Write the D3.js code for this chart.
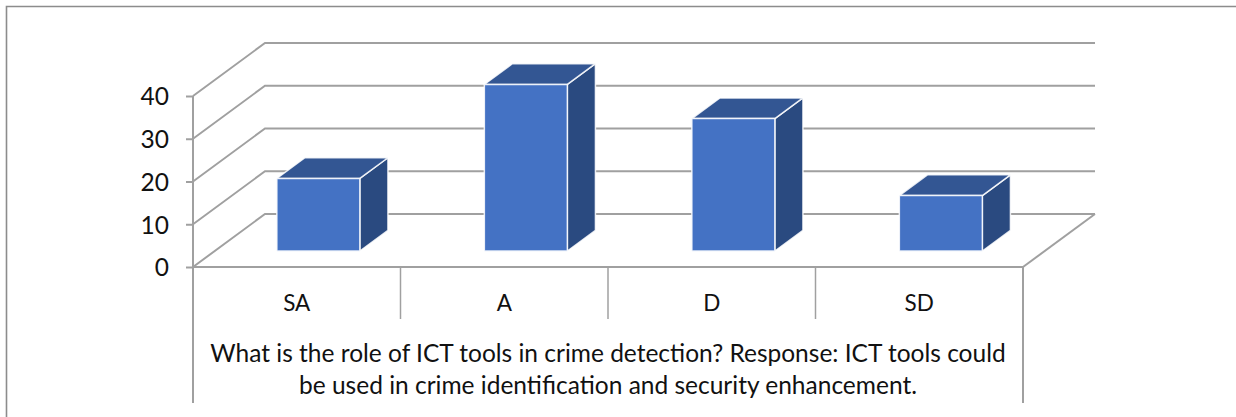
<!DOCTYPE html>
<html>
<head>
<meta charset="utf-8">
<script src="https://cdn.jsdelivr.net/npm/d3@7"></script>
<style>
  html, body { margin: 0; padding: 0; background: #fff; }
  svg { display: block; }
  text { font-family: Lato, "Open Sans", sans-serif; fill: #111; }
</style>
</head>
<body>
<div class="svg-container"></div>
<script>
// data
const categories = ["SA", "A", "D", "SD"];
const values = [17, 39, 31, 13];
const yTicks = [0, 10, 20, 30, 40];
const titleLines = [
  "What is the role of ICT tools in crime detection? Response: ICT tools could",
  "be used in crime identification and security enhancement."
];

const w = 1236;
const h = 417;
const gray = "#a0a0a0";

const svg = d3.select(".svg-container")
  .append("svg")
  .attr("width", w)
  .attr("height", h);

// outer frame, cut off by the picture on the right and bottom
svg.append("path")
  .attr("d", "M6.5," + h + "V6.5H" + w)
  .attr("fill", "none")
  .attr("stroke", "#8c8c8c")
  .attr("stroke-width", 1.6);

// XSCALE
const xScale = d3.scaleBand()
  .domain(categories)
  .range([193, 1023]);

// YSCALE
const yScale = d3.scaleLinear()
  .domain([0, 40])
  .range([267, 96]);

// depth goes from the front of the floor (0) to the back wall (1)
const depthX = d3.scaleLinear().domain([0, 1]).range([0, 72]);
const depthY = d3.scaleLinear().domain([0, 1]).range([0, -53]);

// GRID: side wall and back wall
const grid = svg.append("g")
  .attr("fill", "none")
  .attr("stroke", gray)
  .attr("stroke-width", 2);

yTicks.forEach(function (t) {
  grid.append("path")
    .attr("d", d3.line()([
      [xScale.range()[0], yScale(t)],
      [xScale.range()[0] + depthX(1), yScale(t) + depthY(1)],
      [xScale.range()[1] + depthX(1), yScale(t) + depthY(1)]
    ]));
});

// floor edge on the right
grid.append("path")
  .attr("d", d3.line()([
    [xScale.range()[1], yScale(0)],
    [xScale.range()[1] + depthX(1), yScale(0) + depthY(1)]
  ]));

// AXIS
const yAxis = d3.axisLeft(yScale)
  .tickValues(yTicks)
  .tickSize(7)
  .tickPadding(17);

const yG = svg.append("g")
  .attr("transform", "translate(193,0)")
  .call(yAxis);
yG.select(".domain").remove();
yG.selectAll("line").attr("stroke", gray).attr("stroke-width", 2);
yG.selectAll("text")
  .attr("font-size", 24.5)
  .attr("dy", "0.36em")
  .style("font-family", "Lato, sans-serif")
  .style("fill", "#111");

// table lines under the floor
const axisLines = svg.append("g")
  .attr("stroke", gray)
  .attr("stroke-width", 2);

axisLines.append("line")
  .attr("x1", xScale.range()[0]).attr("x2", xScale.range()[1])
  .attr("y1", yScale(0)).attr("y2", yScale(0));
axisLines.append("line")
  .attr("x1", xScale.range()[0]).attr("x2", xScale.range()[0])
  .attr("y1", yScale(40)).attr("y2", 403);
axisLines.append("line")
  .attr("x1", xScale.range()[1]).attr("x2", xScale.range()[1])
  .attr("y1", yScale(0)).attr("y2", 403);
axisLines.selectAll(".sep")
  .data(categories.slice(1))
  .enter()
  .append("line")
  .attr("class", "sep")
  .attr("stroke-width", 1.5)
  .attr("x1", d => xScale(d)).attr("x2", d => xScale(d))
  .attr("y1", yScale(0)).attr("y2", 319);

// BARS
const barWidth = 83;
const barFront = 0.3;
const barDepth = 0.39;
const unit = yScale(0) - yScale(1);

const bars = svg.selectAll(".bar")
  .data(categories.map((c, i) => ({ cat: c, val: values[i] })))
  .enter()
  .append("g")
  .attr("class", "bar")
  .attr("stroke", "#fff")
  .attr("stroke-opacity", 0.85)
  .attr("stroke-width", 1.5)
  .attr("stroke-linejoin", "round");

function barBox(d) {
  const x0 = xScale(d.cat) + xScale.bandwidth() / 2 - barWidth / 2 + depthX(barFront);
  const y0 = yScale(0) + depthY(barFront);
  return {
    x0: x0,
    x1: x0 + barWidth,
    y0: y0,
    y1: y0 - d.val * unit,
    dx: depthX(barDepth),
    dy: depthY(barDepth)
  };
}

// side face
bars.append("path")
  .attr("fill", "#2a4a80")
  .attr("d", function (d) {
    const b = barBox(d);
    return d3.line()([
      [b.x1, b.y0], [b.x1, b.y1],
      [b.x1 + b.dx, b.y1 + b.dy], [b.x1 + b.dx, b.y0 + b.dy]
    ]) + "Z";
  });

// top face
bars.append("path")
  .attr("fill", "#335693")
  .attr("d", function (d) {
    const b = barBox(d);
    return d3.line()([
      [b.x0, b.y1], [b.x0 + b.dx, b.y1 + b.dy],
      [b.x1 + b.dx, b.y1 + b.dy], [b.x1, b.y1]
    ]) + "Z";
  });

// front face
bars.append("rect")
  .attr("fill", "#4472c4")
  .attr("x", d => barBox(d).x0)
  .attr("y", d => barBox(d).y1)
  .attr("width", barWidth)
  .attr("height", d => d.val * unit);

// category labels
svg.selectAll(".cat")
  .data(categories)
  .enter()
  .append("text")
  .attr("class", "cat")
  .attr("x", d => xScale(d) + xScale.bandwidth() / 2)
  .attr("y", 311)
  .attr("text-anchor", "middle")
  .attr("font-size", 22.5)
  .text(d => d);

// title under the axis
svg.selectAll(".title-line")
  .data(titleLines)
  .enter()
  .append("text")
  .attr("class", "title-line")
  .attr("x", 608)
  .attr("y", (d, i) => 362 + i * 32)
  .attr("text-anchor", "middle")
  .attr("font-size", 24.5)
  .text(d => d);
</script>
</body>
</html>
